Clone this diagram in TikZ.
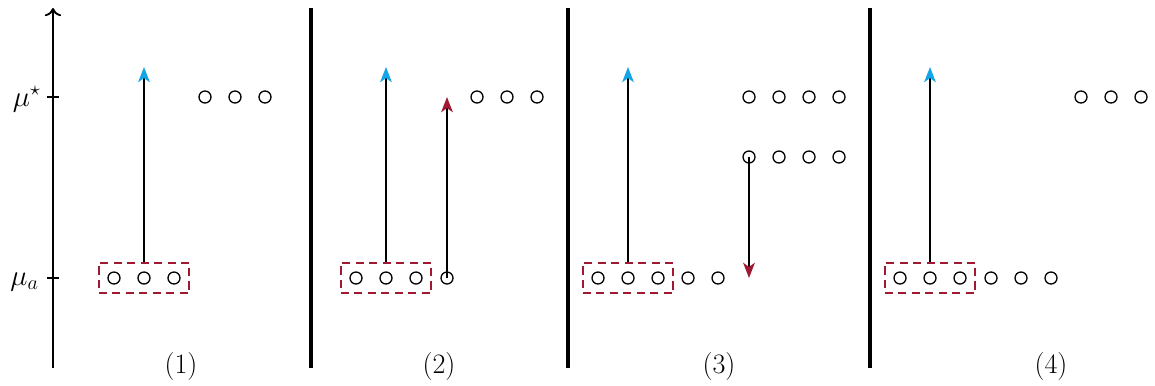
\documentclass[tikz,border=0pt]{standalone}
\usepackage{xcolor}
\usepackage{amsmath}
\usepackage{tikz}
\usetikzlibrary{arrows.meta,positioning,fit}

\definecolor{sky}{RGB}{20,165,230}
\definecolor{bordo}{RGB}{160,25,50}

\begin{document}
\begin{tikzpicture}[
  x=0.03cm, y=-0.03cm, font=\fontsize{24}{28}\selectfont,
  lvl/.style={circle, draw, line width=1.1pt, minimum size=0.36cm, inner sep=0pt},
  grp/.style={draw=bordo, line width=1.5pt, dash pattern=on 7pt off 4.5pt, inner xsep=0.26cm, inner ysep=0.26cm},
  jump/.style={line width=1.6pt, -{Stealth[color=#1, length=13pt, width=10pt, inset=3.5pt]}},
  sep/.style={line width=3pt},
  lab/.style={inner sep=1pt},
]
\useasboundingbox (0,0) rectangle (1155,385);
% axis
\coordinate (ax0) at (53,368);
\coordinate (ax1) at (53,8);
\draw[line width=1.6pt, -{To[length=7pt, width=14pt]}] (ax0) -- (ax1);
\coordinate (tk1) at (53,97);
\coordinate (tk2) at (53,278);
\draw[line width=1.3pt] ([xshift=-5] tk1) -- ([xshift=5] tk1);
\draw[line width=1.3pt] ([xshift=-5] tk2) -- ([xshift=5] tk2);
\node[lab, anchor=east] (mus) at (42,99) {$\mu^\star$};
\node[lab, anchor=east] (mua) at (40,282) {$\mu_a$};
% separators
\foreach \x/\n in {311/1,568/2,870/3}
  \draw[sep] (\x,8) coordinate (s\n a) -- (\x,368) coordinate (s\n b);
% panel 1
\foreach \i/\x in {1/114,2/144,3/174} \node[lvl] (lo1-\i) at (\x,278) {};
\foreach \i/\x in {1/205,2/235,3/265} \node[lvl] (hi1-\i) at (\x,97) {};
\node[grp, fit=(lo1-1)(lo1-3)] (box1) {};
\coordinate (top1) at (144,67);
\draw[jump=sky] (box1.north -| top1) -- (top1);
\node[lab] (n1) at (181,366) {(1)};
% panel 2
\foreach \i/\x in {1/356,2/386,3/416,4/447} \node[lvl] (lo2-\i) at (\x,278) {};
\foreach \i/\x in {1/477,2/507,3/537} \node[lvl] (hi2-\i) at (\x,97) {};
\node[grp, fit=(lo2-1)(lo2-3)] (box2) {};
\coordinate (top2) at (386,67);
\draw[jump=sky] (box2.north -| top2) -- (top2);
\coordinate (tip2) at (447,97);
\draw[jump=bordo] (lo2-4.center) -- (tip2);
\node[lab] (n2) at (439,366) {(2)};
% panel 3
\foreach \i/\x in {1/598,2/628,3/658,4/688,5/718} \node[lvl] (lo3-\i) at (\x,278) {};
\foreach \i/\x in {1/749,2/779,3/809,4/839} {
  \node[lvl] (hi3-\i) at (\x,97) {};
  \node[lvl] (mid3-\i) at (\x,157) {};
}
\node[grp, fit=(lo3-1)(lo3-3)] (box3) {};
\coordinate (top3) at (628,67);
\draw[jump=sky] (box3.north -| top3) -- (top3);
\coordinate (tip3) at (749,278);
\draw[jump=bordo] (mid3-1.center) -- (tip3);
\node[lab] (n3) at (719,366) {(3)};
% panel 4
\foreach \i/\x in {1/900,2/930,3/960,4/991,5/1021,6/1051} \node[lvl] (lo4-\i) at (\x,278) {};
\foreach \i/\x in {1/1081,2/1111,3/1141} \node[lvl] (hi4-\i) at (\x,97) {};
\node[grp, fit=(lo4-1)(lo4-3)] (box4) {};
\coordinate (top4) at (930,67);
\draw[jump=sky] (box4.north -| top4) -- (top4);
\node[lab] (n4) at (1051,366) {(4)};
\end{tikzpicture}
\end{document}
